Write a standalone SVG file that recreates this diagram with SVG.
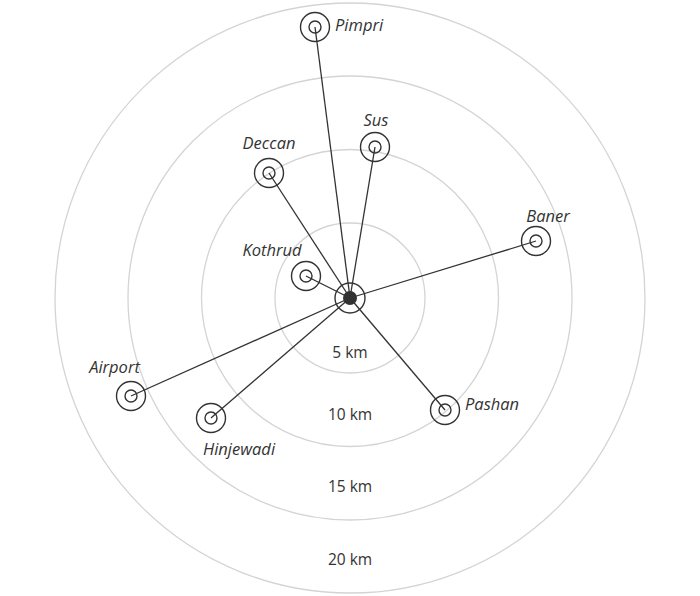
<svg xmlns="http://www.w3.org/2000/svg" width="700" height="596" viewBox="0 0 700 596">
<style>
.ring{fill:none;stroke:#d4d4d4;stroke-width:1.3}
.edge{stroke:#333;stroke-width:1.3}
.o{fill:none;stroke:#333;stroke-width:1.4}
.lbl{font-family:"Open Sans","Liberation Sans",sans-serif;font-style:italic;font-size:16.5px;fill:#333}
.km{font-family:"Open Sans","Liberation Sans",sans-serif;font-size:15.5px;fill:#333;text-anchor:middle}
</style>
<rect width="700" height="596" fill="#fff"/>
<g id="rings">
<circle class="ring" cx="350" cy="298" r="75"/>
<circle class="ring" cx="350" cy="298" r="148.5"/>
<circle class="ring" cx="350" cy="298" r="222"/>
<circle class="ring" cx="350" cy="298" r="295"/>
<text class="km" x="350" y="358">5 km</text>
<text class="km" x="350" y="420">10 km</text>
<text class="km" x="350" y="492">15 km</text>
<text class="km" x="350" y="565">20 km</text>
</g>
<g id="connectors">
<line class="edge" x1="350" y1="298" x2="315" y2="27"/>
<line class="edge" x1="350" y1="298" x2="375" y2="147"/>
<line class="edge" x1="350" y1="298" x2="269" y2="173"/>
<line class="edge" x1="350" y1="298" x2="536" y2="241"/>
<line class="edge" x1="350" y1="298" x2="306" y2="276"/>
<line class="edge" x1="350" y1="298" x2="131" y2="396"/>
<line class="edge" x1="350" y1="298" x2="211" y2="418"/>
<line class="edge" x1="350" y1="298" x2="445" y2="410"/>
</g>
<g id="center">
<circle class="o" cx="350" cy="298" r="15"/>
<circle cx="350" cy="298" r="7" fill="#333"/>
</g>
<g id="pimpri">
<circle class="o" cx="315" cy="27" r="14.5"/>
<circle class="o" cx="315" cy="27" r="6"/>
<text class="lbl" x="335" y="31">Pimpri</text>
</g>
<g id="sus">
<circle class="o" cx="375" cy="147" r="14.5"/>
<circle class="o" cx="375" cy="147" r="6"/>
<text class="lbl" x="376" y="126" text-anchor="middle">Sus</text>
</g>
<g id="deccan">
<circle class="o" cx="269" cy="173" r="14.5"/>
<circle class="o" cx="269" cy="173" r="6"/>
<text class="lbl" x="269" y="148.5" text-anchor="middle">Deccan</text>
</g>
<g id="baner">
<circle class="o" cx="536" cy="241" r="14.5"/>
<circle class="o" cx="536" cy="241" r="6"/>
<text class="lbl" x="548" y="221.5" text-anchor="middle">Baner</text>
</g>
<g id="kothrud">
<circle class="o" cx="306" cy="276" r="14.5"/>
<circle class="o" cx="306" cy="276" r="6"/>
<text class="lbl" x="272" y="256" text-anchor="middle">Kothrud</text>
</g>
<g id="airport">
<circle class="o" cx="131" cy="396" r="14.5"/>
<circle class="o" cx="131" cy="396" r="6"/>
<text class="lbl" x="114.5" y="372.5" text-anchor="middle">Airport</text>
</g>
<g id="hinjewadi">
<circle class="o" cx="211" cy="418" r="14.5"/>
<circle class="o" cx="211" cy="418" r="6"/>
<text class="lbl" x="239" y="455" text-anchor="middle">Hinjewadi</text>
</g>
<g id="pashan">
<circle class="o" cx="445" cy="410" r="14.5"/>
<circle class="o" cx="445" cy="410" r="6"/>
<text class="lbl" x="465" y="409.5">Pashan</text>
</g>
</svg>
